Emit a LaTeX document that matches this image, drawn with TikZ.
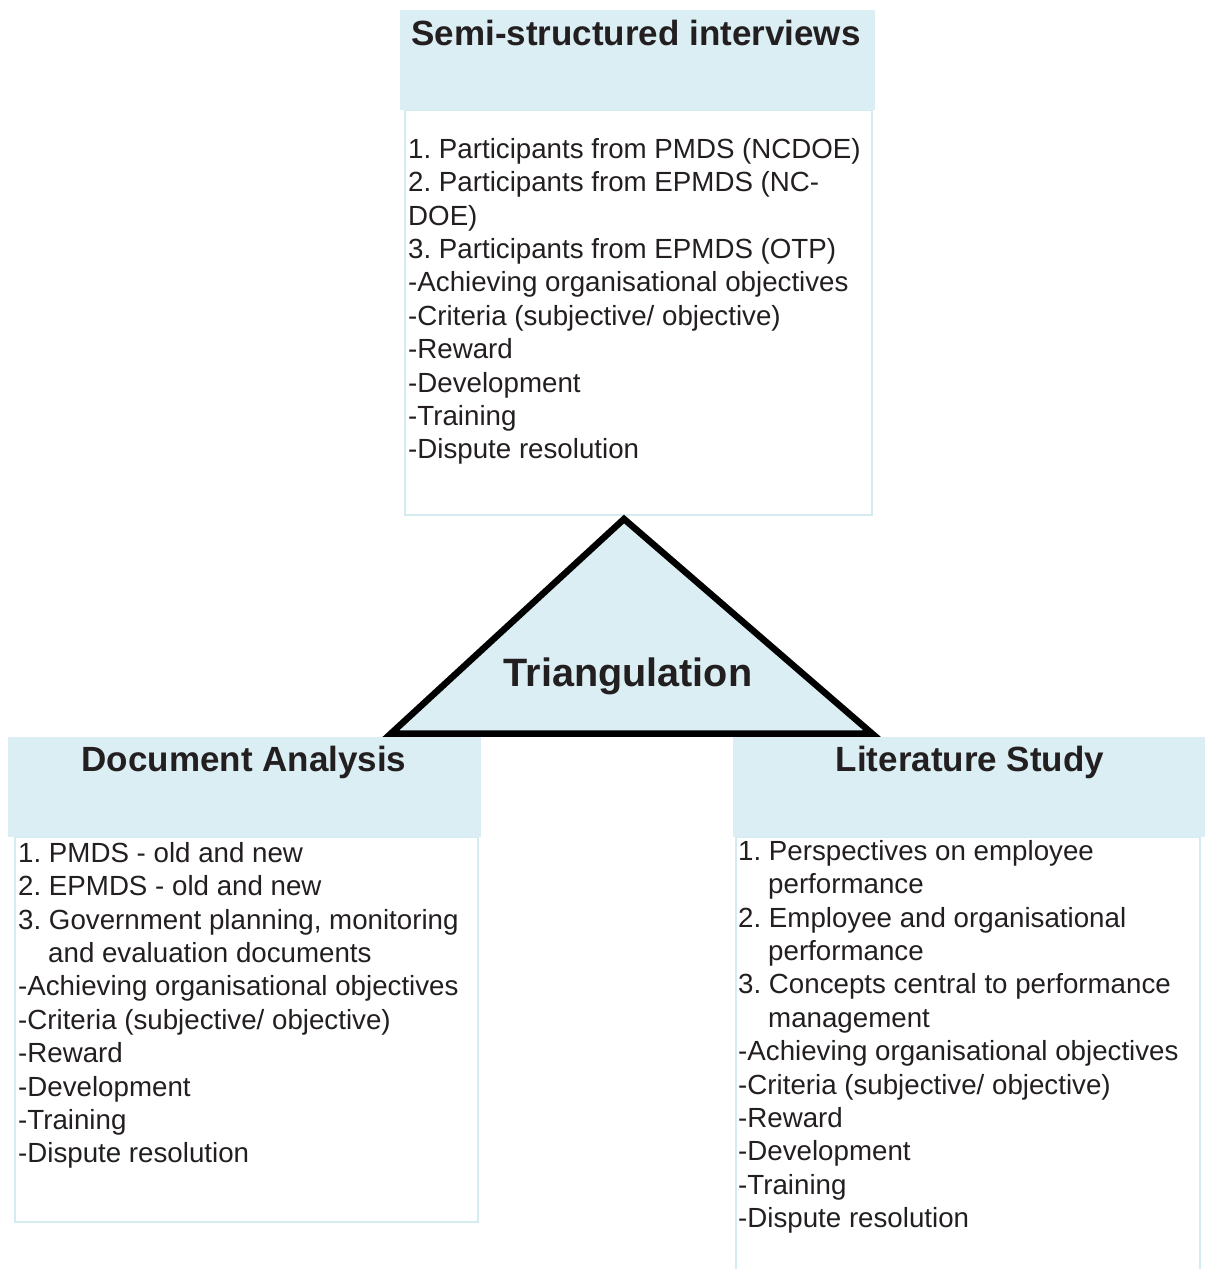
\documentclass[tikz,border=0pt]{standalone}
\usepackage{fontspec}
\setmainfont{Liberation Sans}
\frenchspacing
\definecolor{hdr}{RGB}{218,238,243}
\definecolor{bdr}{RGB}{212,235,240}
\definecolor{txt}{RGB}{35,31,32}
\begin{document}
\begin{tikzpicture}[x=1pt,y=-1pt,
  header/.style={fill=hdr, draw=none, anchor=north west, inner sep=0pt, outer sep=0pt},
  bodybox/.style={draw=bdr, line width=1.6pt, fill=white, anchor=north west, inner sep=0pt, outer sep=0pt},
  titletext/.style={font=\fontsize{35}{42}\selectfont\bfseries, text=txt, inner sep=0pt, anchor=base},
  bodytext/.style={font=\fontsize{27.7}{33.4}\selectfont\frenchspacing, text=txt, inner sep=0pt, align=left, anchor=north west},
  tri/.style={draw=black, fill=hdr, line width=6.5pt, line join=miter}]
\useasboundingbox (0,0) rectangle (1205,1269);

% top block
\node[bodybox, minimum width=467pt, minimum height=405pt] (bodyI) at (405,110) {};
\node[header, minimum width=475pt, minimum height=100pt] (hdrI) at (400,10) {};
\node[titletext] (titleI) at (636,45) {Semi-structured interviews};
\node[bodytext] (textI) at (408,138) {1. Participants from PMDS (NCDOE)\\
2. Participants from EPMDS (NC-\\
DOE)\\
3. Participants from EPMDS (OTP)\\
-Achieving organisational objectives\\
-Criteria (subjective/ objective)\\
-Reward\\
-Development\\
-Training\\
-Dispute resolution};

% left block
\node[bodybox, minimum width=463pt, minimum height=385pt] (bodyL) at (15,837) {};
\node[header, minimum width=473pt, minimum height=100pt] (hdrL) at (8,737) {};
\node[titletext] (titleL) at (244,771) {Document Analysis};
\node[bodytext] (textL) at (18,842) {1. PMDS - old and new\\
2. EPMDS - old and new\\
3. Government planning, monitoring\\
\hspace*{30pt}and evaluation documents\\
-Achieving organisational objectives\\
-Criteria (subjective/ objective)\\
-Reward\\
-Development\\
-Training\\
-Dispute resolution};

% right block (runs off the bottom)
\coordinate (rbTL) at (736,837);
\coordinate (rbTR) at (1200,837);
\coordinate (rbBL) at (736,1269);
\coordinate (rbBR) at (1200,1269);
\draw[draw=bdr, line width=1.6pt] (rbBL) -- (rbTL) -- (rbTR) -- (rbBR);
\node[header, minimum width=472pt, minimum height=100pt] (hdrR) at (733,737) {};
\node[titletext] (titleR) at (970,771) {Literature Study};
\node[bodytext] (textR) at (738,840) {1. Perspectives on employee\\
\hspace*{30pt}performance\\
2. Employee and organisational\\
\hspace*{30pt}performance\\
3. Concepts central to performance\\
\hspace*{30pt}management\\
-Achieving organisational objectives\\
-Criteria (subjective/ objective)\\
-Reward\\
-Development\\
-Training\\
-Dispute resolution};

% triangle
\coordinate (apex) at (624,519);
\coordinate (baseL) at (391,733.5);
\coordinate (baseR) at (872,733.5);
\draw[tri] (apex) -- (baseL) -- (baseR) -- cycle;
\node[font=\fontsize{39.6}{46}\selectfont\bfseries, text=txt, inner sep=0pt, anchor=base] (triLabel) at (628,686) {Triangulation};
\end{tikzpicture}
\end{document}
